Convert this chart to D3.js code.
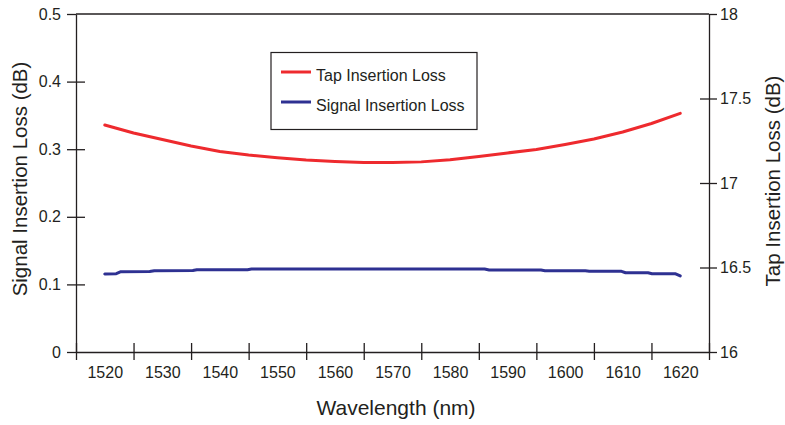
<!DOCTYPE html>
<html lang="en">
<head>
  <meta charset="UTF-8">
  <script src="https://d3js.org/d3.v7.min.js"></script>
  <title>Insertion Loss vs Wavelength</title>
  <style>
    body { margin: 0; background: #fff; }
    text { font-family: "Liberation Sans", Arial, sans-serif; fill: #231f20; }
    .axis path, .axis line { stroke: #231f20; stroke-width: 1.3px; }
    .axis text { font-size: 16px; }
    .title { font-size: 20.5px; }
    .legend text { font-size: 16px; }
  </style>
</head>
<body>
  <svg width="785" height="425"></svg>

  <script>
    // wavelength labels and tick boundaries (nm)
    const wlLabels = [1520, 1530, 1540, 1550, 1560, 1570, 1580, 1590, 1600, 1610, 1620];
    const wlBounds = [1515, 1525, 1535, 1545, 1555, 1565, 1575, 1585, 1595, 1605, 1615, 1625];
    const leftTicks = [0, 0.1, 0.2, 0.3, 0.4, 0.5];
    const rightTicks = [16, 16.5, 17, 17.5, 18];

    // Tap insertion loss (right axis, dB)
    const tapWl = [1520, 1525, 1530, 1535, 1540, 1545, 1550, 1555, 1560, 1565, 1570,
                   1575, 1580, 1585, 1590, 1595, 1600, 1605, 1610, 1615, 1620];
    const tapIL = [17.343, 17.296, 17.257, 17.219, 17.186, 17.166, 17.150, 17.136, 17.127, 17.121, 17.121,
                   17.125, 17.137, 17.157, 17.178, 17.198, 17.228, 17.260, 17.302, 17.352, 17.412];

    // Signal insertion loss (left axis, dB)
    const sigWl = [1520, 1522, 1522.8, 1527.8, 1528.6, 1535.3, 1536, 1544.8, 1545.5, 1586,
                   1586.8, 1595.8, 1596.5, 1603.5, 1604.2, 1609.8, 1610.5, 1614.4, 1615.1, 1619.2, 1620];
    const sigIL = [0.1155, 0.1158, 0.1188, 0.1190, 0.1203, 0.1205, 0.1217, 0.1218, 0.1228, 0.1228,
                   0.1213, 0.1212, 0.1203, 0.1202, 0.1194, 0.1193, 0.1173, 0.1172, 0.1158, 0.1157, 0.1125];

    const svg = d3.select("svg");
    const mLeft = 76, mRight = 709, mTop = 14, mBottom = 352;

    const x = d3.scaleLinear().domain([1515, 1625]).range([mLeft, mRight]);
    const yL = d3.scaleLinear().domain([0, 0.5]).range([mBottom, mTop]);
    const yR = d3.scaleLinear().domain([16, 18]).range([mBottom, mTop]);

    // top frame line
    svg.append("line")
      .attr("x1", mLeft).attr("x2", mRight)
      .attr("y1", mTop).attr("y2", mTop)
      .attr("stroke", "#231f20").attr("stroke-width", 1.3);

    // x axis: tick marks at band boundaries, labels centred
    const gx = svg.append("g").attr("class", "axis")
      .attr("transform", `translate(0,${mBottom})`)
      .call(d3.axisBottom(x).tickValues(wlBounds).tickFormat("").tickSizeOuter(0));
    gx.selectAll(".tick line").attr("y1", -9).attr("y2", 8);

    svg.append("g").attr("class", "axis")
      .attr("transform", `translate(0,${mBottom})`)
      .call(d3.axisBottom(x).tickValues(wlLabels).tickFormat(d3.format("d")).tickSize(0).tickPadding(15))
      .call(g => g.select(".domain").remove());

    // left axis
    const gl = svg.append("g").attr("class", "axis")
      .attr("transform", `translate(${mLeft},0)`)
      .call(d3.axisLeft(yL).tickValues(leftTicks).tickFormat(d => d === 0 ? "0" : d3.format(".1f")(d))
        .tickSize(9).tickSizeOuter(0).tickPadding(6));
    gl.selectAll(".tick line").attr("x2", d => (d === 0 || d === 0.5) ? 0 : 9).attr("x1", -9);

    // right axis
    const gr = svg.append("g").attr("class", "axis")
      .attr("transform", `translate(${mRight},0)`)
      .call(d3.axisRight(yR).tickValues(rightTicks).tickFormat(d => String(d))
        .tickSize(8).tickSizeOuter(0).tickPadding(3));
    gr.selectAll(".tick line").attr("x1", d => (d === 16 || d === 18) ? 0 : -9).attr("x2", 8);

    // lines
    const tapLine = d3.line().x(d => x(d[0])).y(d => yR(d[1]));
    const sigLine = d3.line().x(d => x(d[0])).y(d => yL(d[1]));

    svg.append("path")
      .datum(tapWl.map((w, i) => [w, tapIL[i]]))
      .attr("d", tapLine)
      .attr("fill", "none").attr("stroke", "#ee2a2e").attr("stroke-width", 3)
      .attr("stroke-linecap", "round").attr("stroke-linejoin", "round");

    svg.append("path")
      .datum(sigWl.map((w, i) => [w, sigIL[i]]))
      .attr("d", sigLine)
      .attr("fill", "none").attr("stroke", "#2e3192").attr("stroke-width", 3)
      .attr("stroke-linecap", "round").attr("stroke-linejoin", "round");

    // axis titles
    svg.append("text").attr("class", "title")
      .attr("x", 396).attr("y", 415)
      .style("font-size", "21px")
      .attr("text-anchor", "middle")
      .text("Wavelength (nm)");

    svg.append("text").attr("class", "title")
      .attr("transform", `translate(27,${(mTop + mBottom) / 2 - 4}) rotate(-90)`)
      .attr("text-anchor", "middle")
      .text("Signal Insertion Loss (dB)");

    svg.append("text").attr("class", "title")
      .attr("transform", `translate(780,${(mTop + mBottom) / 2 - 2}) rotate(-90)`)
      .attr("text-anchor", "middle")
      .text("Tap Insertion Loss (dB)");

    // legend
    const legend = svg.append("g").attr("class", "legend");
    legend.append("rect")
      .attr("x", 271).attr("y", 52.5).attr("width", 206).attr("height", 77)
      .attr("fill", "#fff").attr("stroke", "#231f20").attr("stroke-width", 1.2);

    const items = [
      { name: "Tap Insertion Loss", color: "#ee2a2e", y: 72 },
      { name: "Signal Insertion Loss", color: "#2e3192", y: 102 }
    ];
    items.forEach(it => {
      legend.append("line")
        .attr("x1", 281).attr("x2", 311).attr("y1", it.y).attr("y2", it.y)
        .attr("stroke", it.color).attr("stroke-width", 3);
      legend.append("text")
        .attr("x", 316).attr("y", it.y + 9)
        .text(it.name);
    });
  </script>
</body>
</html>
